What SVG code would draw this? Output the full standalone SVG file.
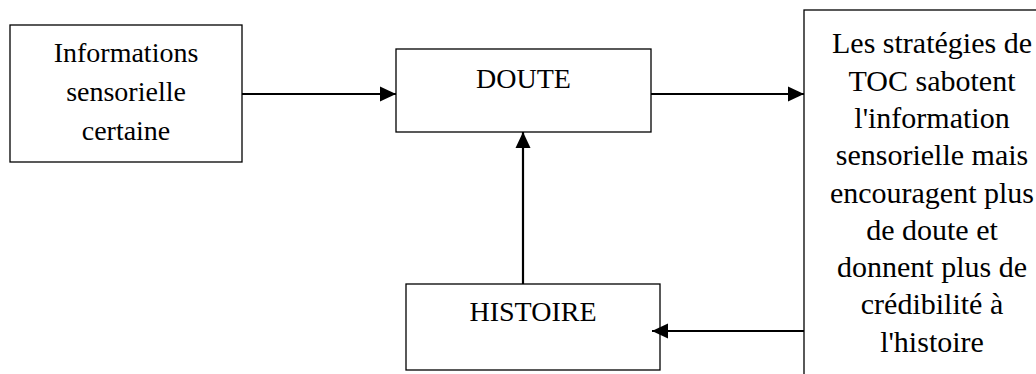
<svg xmlns="http://www.w3.org/2000/svg" width="1036" height="374" viewBox="0 0 1036 374">
  <style>
    .box { fill: #ffffff; stroke: #000000; stroke-width: 1.3; }
    .lbl { font-family: 'Liberation Serif', 'DejaVu Serif', serif; font-size: 28px; fill: #000000; text-anchor: middle; }
    .lbl-lg { font-size: 30px; }
    .wire { fill: none; stroke: #000000; stroke-width: 2.2; }
  </style>
  <defs>
    <marker id="head" markerUnits="userSpaceOnUse" markerWidth="16" markerHeight="16" refX="16" refY="8" orient="auto">
      <path d="M0,0.5 L16,8 L0,15.5 Z" fill="#000000"/>
    </marker>
  </defs>
  <rect width="1036" height="374" fill="#ffffff"/>

  <g id="node-informations">
    <rect class="box" x="10" y="25" width="232" height="137"/>
    <text class="lbl" x="126" y="62">Informations</text>
    <text class="lbl" x="126" y="101">sensorielle</text>
    <text class="lbl" x="126" y="140">certaine</text>
  </g>

  <g id="node-doute">
    <rect class="box" x="396" y="49" width="255" height="83"/>
    <text class="lbl" x="523.5" y="88">DOUTE</text>
  </g>

  <g id="node-strategies">
    <rect class="box" x="804" y="10" width="258" height="380"/>
    <text class="lbl lbl-lg" x="932" y="53.3">Les stratégies de</text>
    <text class="lbl lbl-lg" x="932" y="90.6">TOC sabotent</text>
    <text class="lbl lbl-lg" x="932" y="127.9">l'information</text>
    <text class="lbl lbl-lg" x="932" y="165.2">sensorielle mais</text>
    <text class="lbl lbl-lg" x="932" y="202.5">encouragent plus</text>
    <text class="lbl lbl-lg" x="932" y="239.8">de doute et</text>
    <text class="lbl lbl-lg" x="932" y="277.1">donnent plus de</text>
    <text class="lbl lbl-lg" x="932" y="314.4">crédibilité à</text>
    <text class="lbl lbl-lg" x="932" y="351.7">l'histoire</text>
  </g>

  <g id="node-histoire">
    <rect class="box" x="406" y="284" width="254" height="86"/>
    <text class="lbl" x="533" y="321">HISTOIRE</text>
  </g>

  <g id="connectors">
    <line class="wire" x1="242" y1="94" x2="396" y2="94" marker-end="url(#head)"/>
    <line class="wire" x1="651" y1="94" x2="804" y2="94" marker-end="url(#head)"/>
    <line class="wire" x1="523" y1="284" x2="523" y2="132" marker-end="url(#head)"/>
    <line class="wire" x1="804" y1="331" x2="652" y2="331" marker-end="url(#head)"/>
  </g>
</svg>
